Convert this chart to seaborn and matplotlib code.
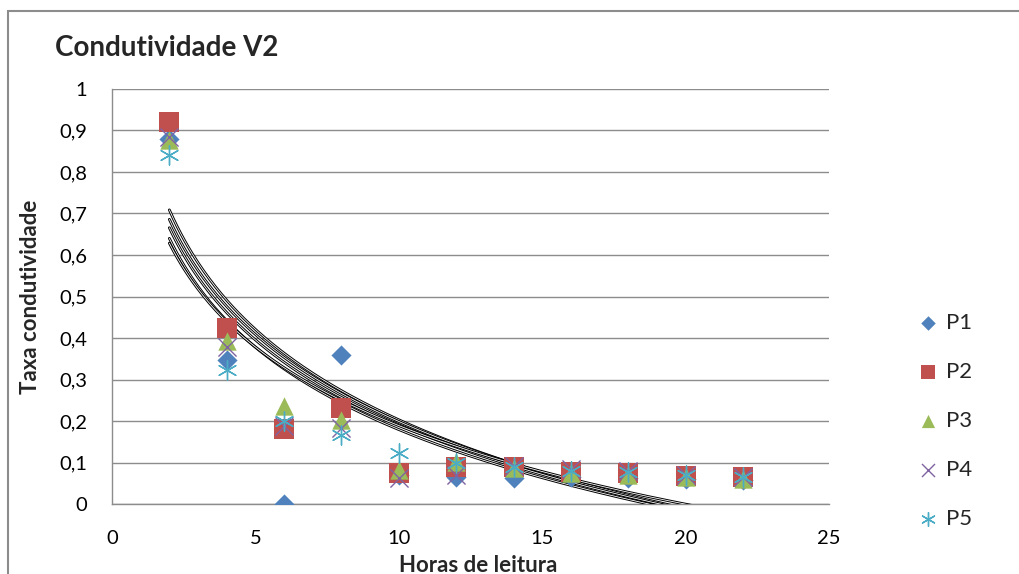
import matplotlib
matplotlib.use("Agg")
import matplotlib.pyplot as plt
import seaborn as sns
import numpy as np
import pandas as pd
from matplotlib.patches import Rectangle

# dados
horas = [2, 4, 6, 8, 10, 12, 14, 16, 18, 20, 22]
p1 = [0.88, 0.347, 0.0, 0.359, 0.07, 0.066, 0.063, 0.065, 0.063, 0.06, 0.058]
p2 = [0.92, 0.424, 0.18, 0.231, 0.075, 0.089, 0.09, 0.078, 0.075, 0.067, 0.066]
p3 = [0.877, 0.393, 0.236, 0.202, 0.082, 0.102, 0.087, 0.075, 0.07, 0.064, 0.06]
p4 = [0.885, 0.379, 0.188, 0.183, 0.062, 0.07, 0.092, 0.085, 0.08, 0.07, 0.066]
p5 = [0.84, 0.323, 0.2, 0.166, 0.122, 0.1, 0.09, 0.08, 0.076, 0.07, 0.066]

series = ["P1", "P2", "P3", "P4", "P5"]
valores = [p1, p2, p3, p4, p5]
cores = ["#4F81BD", "#C0504D", "#9BBB59", "#8064A2", "#4BACC6"]
marcadores = ["D", "s", "^", "x", (6, 2, 0)]
tamanhos = [105, 200, 175, 170, 190]

sns.set_style("white")
plt.rcParams['font.family'] = ['Lato', 'DejaVu Sans']

fig = plt.figure(figsize=(10.19, 5.74), dpi=100)
ax = fig.add_axes([112 / 1019, 1 - 504 / 574, (829 - 112) / 1019, (504 - 89) / 574])

df = pd.DataFrame({"x": horas * 5,
                   "y": sum(valores, []),
                   "serie": [s for s in series for _ in horas]})

# linhas de tendência logarítmicas (estilo linha dupla do Excel)
xs = np.linspace(min(horas), max(horas), 300)
for v in valores:
    a, b = np.polyfit(np.log(horas), v, 1)
    ys = a * np.log(xs) + b
    ax.plot(xs, ys, color="black", lw=2.0, zorder=3)
    ax.plot(xs, ys, color="white", lw=0.6, zorder=3)

for s, cor, m, tam in zip(series, cores, marcadores, tamanhos):
    sub = df[df["serie"] == s]
    if m == "x" or isinstance(m, tuple):
        sns.scatterplot(data=sub, x="x", y="y", ax=ax, color=cor, marker=m,
                        s=tam, linewidth=1.0, label=s, zorder=4)
    else:
        sns.scatterplot(data=sub, x="x", y="y", ax=ax, color=cor, marker=m,
                        s=tam, linewidth=0, label=s, zorder=4)

ax.set_xlim(0, 25)
ax.set_ylim(0, 1)
ax.set_xticks(range(0, 26, 5))
ax.set_yticks(np.arange(0, 1.01, 0.1))
ax.set_yticklabels(["0" if t == 0 else ("1" if t == 10 else f"0,{t}") for t in range(11)])
ax.yaxis.grid(True, color="#8C8C8C", lw=1.0)
ax.xaxis.grid(False)
for lado in ["top", "right"]:
    ax.spines[lado].set_visible(False)
for lado in ["left", "bottom"]:
    ax.spines[lado].set_color("#8C8C8C")
    ax.spines[lado].set_linewidth(1.0)
ax.tick_params(axis="both", direction="out", length=6, width=1, color="#8C8C8C",
               labelsize=14.5, labelcolor="black")
ax.tick_params(axis="x", pad=13)
ax.tick_params(axis="y", pad=12)
ax.set_axisbelow(True)

ax.set_xlabel("Horas de leitura", fontsize=16, fontweight="bold", va="center")
ax.xaxis.set_label_coords((478 - 112) / 717, (504 - 565) / 415)
ax.set_ylabel("Taxa condutividade", fontsize=16, fontweight="bold", va="center")
ax.yaxis.set_label_coords((31 - 112) / 717, 0.5)

fig.text(55 / 1019, 1 - 48 / 574, "Condutividade V2", fontsize=20, fontweight="bold",
         ha="left", va="center")

handles, labels = ax.get_legend_handles_labels()
ax.legend(handles, labels, loc="center left", bbox_to_anchor=(897 / 1019, 1 - 421 / 574),
          bbox_transform=fig.transFigure, frameon=False, fontsize=16,
          labelspacing=1.3, handletextpad=0.3, handlelength=1.0, markerscale=0.72)

fig.patches.append(Rectangle((8 / 1019, -0.1), 1.2, 1 - 11 / 574 + 0.1,
                             transform=fig.transFigure, fill=False,
                             edgecolor="#8C8C8C", lw=1.5))

fig.savefig("out.png", dpi=100)
